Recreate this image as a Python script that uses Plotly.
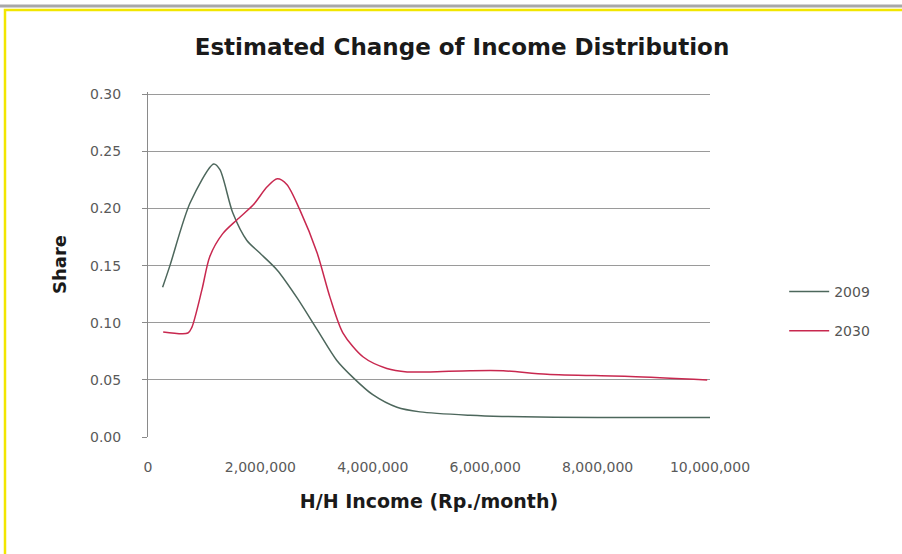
import plotly.graph_objects as go

# Data
income_2009 = [260000, 390000, 750000, 1170000, 1280000, 1510000, 1760000, 1990000, 2300000,
               2650000, 3010000, 3360000, 3650000, 4000000, 4430000, 4840000, 5730000,
               6300000, 8000000, 10000000]
share_2009 = [0.131, 0.150, 0.205, 0.239, 0.234, 0.196, 0.172, 0.161, 0.146,
              0.122, 0.094, 0.067, 0.052, 0.037, 0.026, 0.022, 0.019,
              0.018, 0.017, 0.017]

income_2030 = [270000, 710000, 780000, 960000, 1100000, 1330000, 1580000, 1870000, 2120000,
               2300000, 2470000, 2700000, 3010000, 3240000, 3470000, 3830000, 4250000,
               4610000, 5020000, 5730000, 6320000, 7100000, 8580000, 9950000]
share_2030 = [0.092, 0.091, 0.096, 0.129, 0.158, 0.178, 0.190, 0.203, 0.219,
              0.226, 0.221, 0.199, 0.161, 0.122, 0.091, 0.070, 0.060,
              0.057, 0.057, 0.058, 0.058, 0.055, 0.053, 0.050]

x_ticks = [0, 2000000, 4000000, 6000000, 8000000, 10000000]
x_tick_labels = ["0", "2,000,000", "4,000,000", "6,000,000", "8,000,000", "10,000,000"]
y_ticks = [0.00, 0.05, 0.10, 0.15, 0.20, 0.25, 0.30]

tick_font = "DejaVu Sans, Verdana, sans-serif"
title_font = "DejaVu Sans, Verdana, sans-serif"

fig = go.Figure()
fig.add_trace(go.Scatter(x=income_2009, y=share_2009, mode="lines", name="2009", legendgroup="a",
                         line=dict(color="#4d675c", width=1.5, shape="spline", smoothing=0.8)))
fig.add_trace(go.Scatter(x=income_2030, y=share_2030, mode="lines", name="2030", legendgroup="b",
                         line=dict(color="#c8284f", width=1.5, shape="spline", smoothing=0.8)))

fig.update_layout(
    width=902, height=554,
    paper_bgcolor="white", plot_bgcolor="white",
    margin=dict(l=148, r=192, t=92, b=117),
    title=dict(text="<b>Estimated Change of Income Distribution</b>",
               x=(196 + 728) / 2 / 902, xanchor="center", y=1 - 47 / 554, yanchor="middle",
               font=dict(family=title_font, size=23, color="#1a1a1a")),
    font=dict(family=tick_font, color="#555555"),
    legend=dict(x=1.132, xanchor="left", y=0.364, yanchor="middle",
                font=dict(size=14, color="#555555"), bgcolor="rgba(0,0,0,0)",
                itemwidth=40, tracegroupgap=18),
    showlegend=True,
)

fig.update_xaxes(range=[0, 10000000], tickvals=x_ticks, ticktext=x_tick_labels,
                 showgrid=False, zeroline=False, showline=False,
                 tickfont=dict(size=14, color="#5a5a5a"), ticks="", ticklabelstandoff=20,
                 title=dict(text="<b>H/H Income (Rp./month)</b>", standoff=20,
                            font=dict(family=title_font, size=19, color="#1a1a1a")))
fig.update_yaxes(range=[0, 0.302], tickvals=y_ticks, tickformat=".2f",
                 showgrid=True, gridcolor="#9a9a9a", gridwidth=1, zeroline=False,
                 showline=True, linecolor="#8a8a8a", linewidth=1,
                 ticks="outside", ticklen=5, tickcolor="#8a8a8a",
                 tickfont=dict(size=14, color="#5a5a5a"), ticklabelstandoff=18,
                 title=dict(text="<b>Share</b>", standoff=18,
                            font=dict(family=title_font, size=18, color="#1a1a1a")))

# frame of the scanned image (paper coords: plot area spans px x 148..710, y 92..437)
fig.add_shape(type="line", xref="paper", yref="paper",
              x0=-148 / 562, x1=(902 - 148) / 562, y0=(437 - 6) / 345, y1=(437 - 6) / 345,
              line=dict(color="#a8a8a8", width=3))
fig.add_shape(type="rect", xref="paper", yref="paper",
              x0=(5 - 148) / 562, x1=(910 - 148) / 562, y0=(437 - 560) / 345, y1=(437 - 10) / 345,
              line=dict(color="#f2e600", width=2.5), fillcolor="rgba(0,0,0,0)")

fig.write_html("out.html", config={"displayModeBar": False},
               post_script="document.body.style.margin='0';")
